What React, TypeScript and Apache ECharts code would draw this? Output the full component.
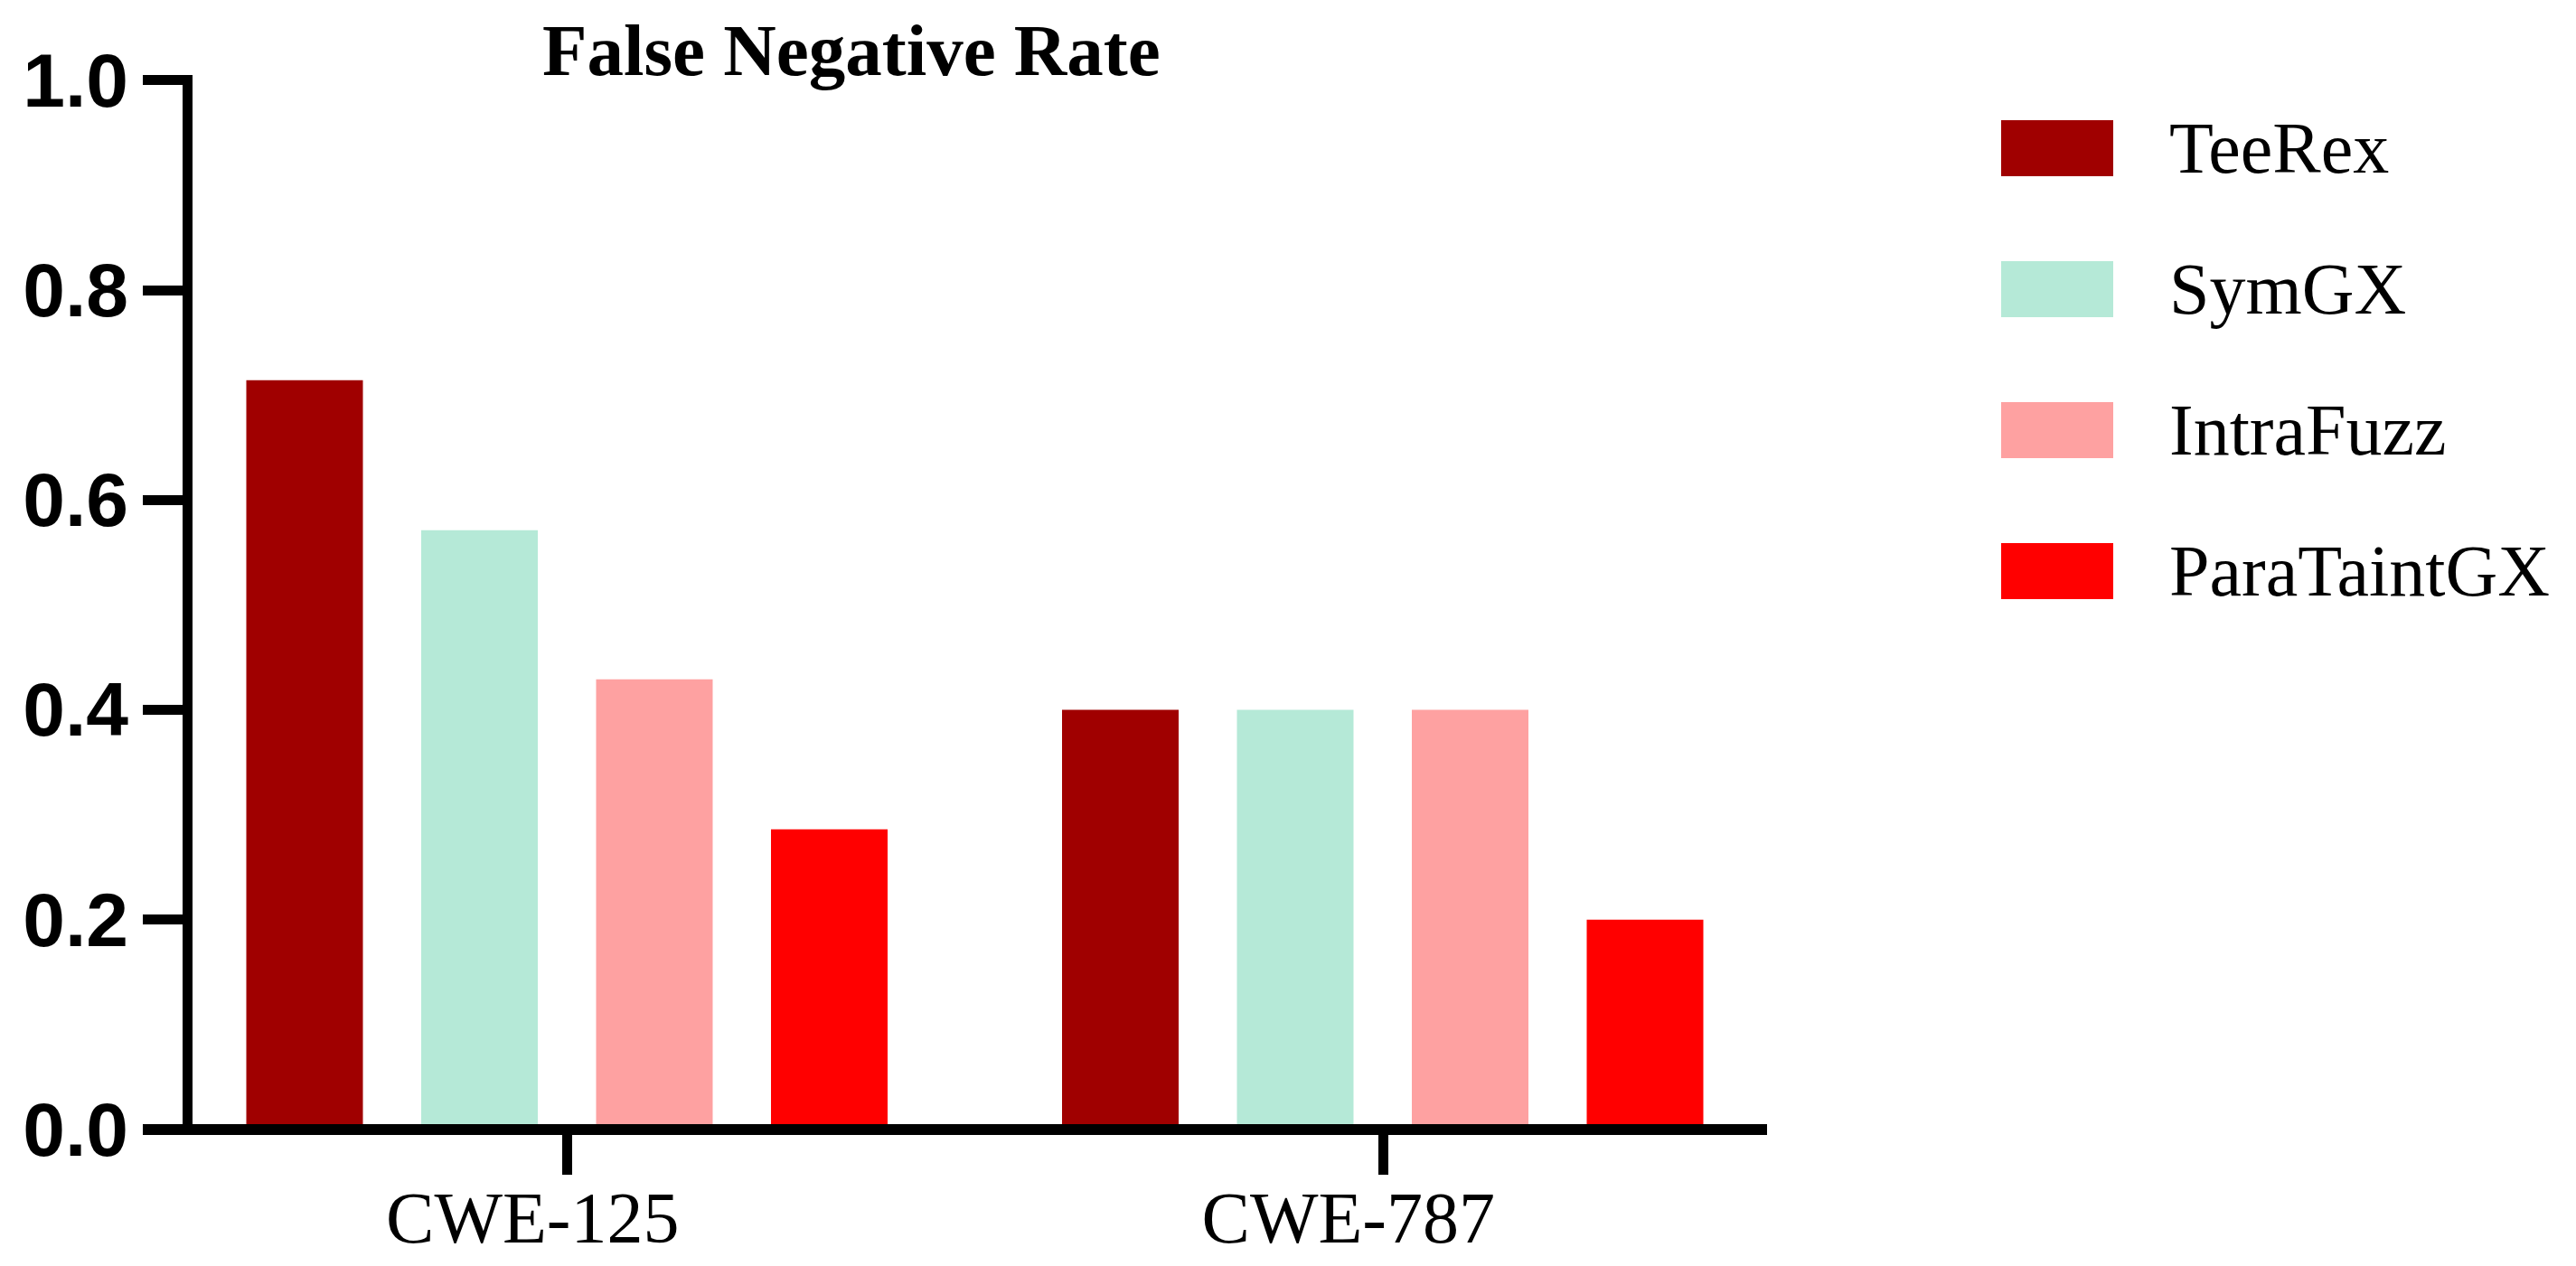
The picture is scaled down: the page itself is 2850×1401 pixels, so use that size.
import React, { useEffect, useRef } from "react";
import * as echarts from "echarts";

const categories = ["CWE-125", "CWE-787"];
const seriesNames = ["TeeRex", "SymGX", "IntraFuzz", "ParaTaintGX"];
const seriesColors = ["#a00000", "#b5e9d7", "#fea1a1", "#ff0000"];
const teeRex = [0.714, 0.4];
const symGX = [0.571, 0.4];
const intraFuzz = [0.429, 0.4];
const paraTaintGX = [0.286, 0.2];
const seriesValues = [teeRex, symGX, intraFuzz, paraTaintGX];
const yTicks = [0, 0.2, 0.4, 0.6, 0.8, 1.0];

export default function App() {
  const ref = useRef<HTMLDivElement>(null);
  useEffect(() => {
    if (!ref.current) return;
    const chart = echarts.init(ref.current, undefined, { renderer: "svg" });
    const gridLeft = 176;
    const gridTop = 88.5;
    const gridBottomY = 1250;
    const gridRightX = 1981;
    chart.setOption({
      animation: false,
      backgroundColor: "#ffffff",
      title: {
        text: "False Negative Rate",
        left: 600,
        top: 15,
        padding: 0,
        textStyle: {
          fontFamily: "Liberation Serif",
          fontWeight: "bold",
          fontSize: 81,
          color: "#000",
        },
      },
      legend: {
        orient: "vertical",
        left: 2214,
        top: 124,
        padding: 0,
        itemWidth: 124,
        itemHeight: 62,
        itemGap: 76,
        icon: "rect",
        data: seriesNames,
        textStyle: {
          fontFamily: "Liberation Serif",
          fontSize: 80,
          color: "#000",
          padding: [0, 0, 0, 57],
        },
      },
      grid: {
        left: gridLeft,
        top: gridTop,
        width: gridRightX - gridLeft,
        height: gridBottomY - gridTop,
        containLabel: false,
      },
      xAxis: {
        type: "category",
        data: categories,
        axisLine: { show: false },
        axisTick: {
          show: true,
          alignWithLabel: true,
          length: 50,
          lineStyle: { color: "#000", width: 11 },
        },
        axisLabel: {
          margin: 58,
          fontFamily: "Liberation Serif",
          fontSize: 80,
          color: "#000",
          padding: [0, 76, 0, 0],
        },
      },
      yAxis: {
        type: "value",
        min: 0,
        max: 1,
        interval: 0.2,
        offset: -31,
        splitLine: { show: false },
        axisLine: {
          show: true,
          lineStyle: { color: "#000", width: 11, cap: "square" },
        },
        axisTick: {
          show: true,
          length: 49,
          lineStyle: { color: "#000", width: 11 },
        },
        axisLabel: {
          margin: 65,
          fontFamily: "Liberation Sans",
          fontWeight: "bold",
          fontSize: 84,
          color: "#000",
          formatter: (v: number) => (yTicks.includes(Math.round(v * 10) / 10) ? v.toFixed(1) : ""),
        },
      },
      series: seriesNames.map((name, i) => ({
        name,
        type: "bar",
        data: seriesValues[i],
        barWidth: 129,
        barGap: "50%",
        itemStyle: { color: seriesColors[i] },
      })),
      graphic: [
        {
          type: "line",
          z: 100,
          shape: { x1: 158, y1: gridBottomY, x2: 1955, y2: gridBottomY },
          style: { stroke: "#000", lineWidth: 12 },
        },
      ],
    });
    return () => chart.dispose();
  }, []);
  return (
    <div
      ref={ref}
      style={{ position: "absolute", left: 0, top: 0, width: 2850, height: 1401 }}
    />
  );
}
